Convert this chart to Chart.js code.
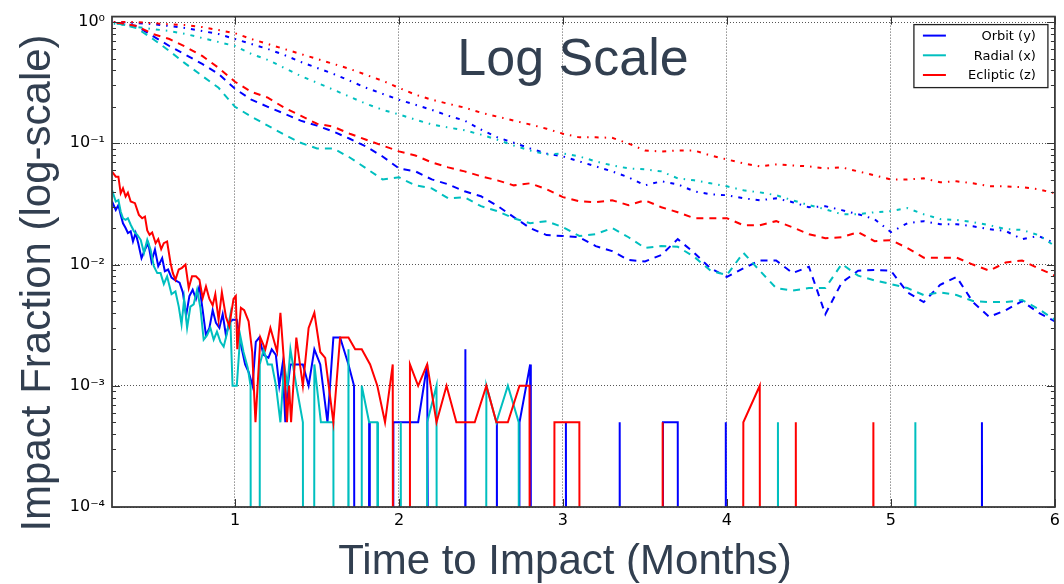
<!DOCTYPE html>
<html>
<head>
<meta charset="utf-8">
<script src="https://cdn.jsdelivr.net/npm/chart.js@4.4.0/dist/chart.umd.min.js"></script>
<style>
  html, body { margin: 0; padding: 0; background: #fff; }
  #wrap { width: 1064px; height: 584px; }
</style>
</head>
<body>
<div id="wrap"><canvas id="chart" width="1064" height="584"></canvas></div>
<script>
// series names / colours
const seriesNames = ['Orbit (y)', 'Radial (x)', 'Ecliptic (z)'];
const seriesColors = ['#0000ff', '#00bfbf', '#ff0000'];

// x ticks (months) and y decades (log scale)
const xTicks = [1, 2, 3, 4, 5, 6];
const yDecades = [1e-4, 1e-3, 1e-2, 1e-1, 1];
const yDecadeLabels = ['10⁻⁴', '10⁻³', '10⁻²', '10⁻¹', '10⁰'];
const yMinorSteps = [2, 3, 4, 5, 6, 7, 8, 9];

// months for the smoother (dashed / dash-dot) curves
const smoothMonths = [0.2, 0.3, 0.4, 0.5, 0.6, 0.7, 0.8, 0.9, 1.0, 1.1, 1.2, 1.3, 1.4, 1.5, 1.6, 1.7, 1.8, 1.9, 2.0,
  2.1, 2.2, 2.3, 2.4, 2.5, 2.6, 2.7, 2.8, 2.9, 3.0, 3.1, 3.2, 3.3, 3.4, 3.5, 3.6, 3.7, 3.8, 3.9, 4.0,
  4.1, 4.2, 4.3, 4.4, 4.5, 4.6, 4.7, 4.8, 4.9, 5.0, 5.1, 5.2, 5.3, 5.4, 5.5, 5.6, 5.7, 5.8, 5.9, 6.0];

// dashed curves
const orbitDashed = [1.0, 0.981, 0.927, 0.767, 0.635, 0.536, 0.452, 0.374, 0.282, 0.229, 0.2, 0.176, 0.154, 0.14,
  0.125, 0.109, 0.094, 0.0779, 0.0621, 0.0587, 0.0504, 0.0459, 0.0402, 0.0366, 0.0305, 0.0246, 0.02, 0.0175, 0.0172,
  0.0168, 0.0142, 0.0129, 0.0109, 0.0106, 0.012, 0.0162, 0.0125, 0.0093, 0.0079, 0.0093, 0.0108, 0.0108, 0.0085,
  0.0096, 0.0039, 0.0071, 0.0089, 0.009, 0.0089, 0.0059, 0.0049, 0.0068, 0.0079, 0.0049, 0.0037, 0.0042, 0.005,
  0.004, 0.0034];
const radialDashed = [0.981, 0.963, 0.893, 0.725, 0.578, 0.452, 0.36, 0.287, 0.2, 0.166, 0.14, 0.118, 0.101, 0.0907,
  0.0907, 0.0764, 0.0621, 0.0504, 0.0524, 0.045, 0.0425, 0.0352, 0.0359, 0.0303, 0.0276, 0.0241, 0.0219, 0.0228,
  0.0203, 0.0172, 0.0178, 0.02, 0.0168, 0.0137, 0.0142, 0.014, 0.0116, 0.0089, 0.0082, 0.0125, 0.0089, 0.0064,
  0.0061, 0.0064, 0.0064, 0.0101, 0.0081, 0.0074, 0.0069, 0.0064, 0.0056, 0.0059, 0.0056, 0.005, 0.0049, 0.0049,
  0.0051, 0.0043, 0.0035];
const eclipticDashed = [1.0, 0.981, 0.927, 0.797, 0.725, 0.624, 0.526, 0.419, 0.322, 0.266, 0.238, 0.197, 0.169,
  0.145, 0.137, 0.12, 0.107, 0.0959, 0.0858, 0.0794, 0.0696, 0.0633, 0.0587, 0.0535, 0.0495, 0.045, 0.0468, 0.0418,
  0.036, 0.0333, 0.0327, 0.0339, 0.0309, 0.0339, 0.0297, 0.027, 0.0241, 0.0241, 0.0241, 0.0211, 0.0211, 0.0228,
  0.0203, 0.0178, 0.0165, 0.0168, 0.0185, 0.0156, 0.0159, 0.0137, 0.0114, 0.0114, 0.0114, 0.01, 0.0089, 0.0104,
  0.0108, 0.0093, 0.0081];

// dash-dot curves
const orbitDashDot = [1.0, 1.0, 0.98, 0.963, 0.927, 0.893, 0.844, 0.797, 0.725, 0.66, 0.6, 0.536, 0.47, 0.419, 0.374,
  0.328, 0.287, 0.256, 0.229, 0.208, 0.189, 0.169, 0.154, 0.13, 0.112, 0.101, 0.0907, 0.0825, 0.0779, 0.0709,
  0.0645, 0.0587, 0.0524, 0.045, 0.0486, 0.0459, 0.0402, 0.038, 0.0373, 0.0352, 0.0339, 0.0352, 0.0327, 0.0297,
  0.0303, 0.0281, 0.026, 0.0237, 0.0185, 0.0219, 0.0228, 0.0215, 0.0215, 0.0207, 0.0196, 0.0189, 0.0162, 0.0172,
  0.015];
const radialDashDot = [0.981, 0.963, 0.91, 0.876, 0.844, 0.797, 0.739, 0.685, 0.635, 0.546, 0.488, 0.419, 0.36,
  0.316, 0.277, 0.242, 0.212, 0.189, 0.173, 0.157, 0.143, 0.135, 0.128, 0.118, 0.107, 0.0959, 0.0873, 0.081,
  0.0825, 0.0779, 0.0709, 0.0657, 0.0621, 0.061, 0.0587, 0.0514, 0.0495, 0.0468, 0.0442, 0.041, 0.0394, 0.0373,
  0.0339, 0.0309, 0.0286, 0.026, 0.026, 0.027, 0.0276, 0.0292, 0.026, 0.0237, 0.0233, 0.0224, 0.0211, 0.0196,
  0.0193, 0.0175, 0.0142];
const eclipticDashDot = [1.0, 1.0, 1.0, 0.98, 0.96, 0.945, 0.91, 0.86, 0.81, 0.725, 0.66, 0.6, 0.546, 0.497, 0.452,
  0.411, 0.367, 0.328, 0.287, 0.252, 0.229, 0.212, 0.197, 0.179, 0.166, 0.154, 0.143, 0.132, 0.12, 0.112, 0.112,
  0.111, 0.0996, 0.0873, 0.0856, 0.0873, 0.0873, 0.0794, 0.0736, 0.0683, 0.0645, 0.067, 0.0657, 0.0645, 0.0621,
  0.0633, 0.0587, 0.0544, 0.0504, 0.0504, 0.0514, 0.0477, 0.0486, 0.0468, 0.0442, 0.0442, 0.0434, 0.0418, 0.0387];

// solid curves: [month, fraction]; 0 = no impacts in that bin
const orbitSolid = [[0.25, 0.0331], [0.273, 0.0282], [0.289, 0.031], [0.303, 0.0257], [0.317, 0.0219], [0.333, 0.02],
  [0.347, 0.0182], [0.364, 0.0188], [0.378, 0.0155], [0.394, 0.0182], [0.41, 0.015], [0.43, 0.0113], [0.451, 0.0133],
  [0.471, 0.015], [0.491, 0.0106], [0.512, 0.0133], [0.532, 0.0097], [0.556, 0.0113], [0.572, 0.0088], [0.592, 0.0091],
  [0.613, 0.0078], [0.637, 0.0074], [0.662, 0.0071], [0.682, 0.0059], [0.702, 0.0038], [0.722, 0.0055], [0.742, 0.0062],
  [0.762, 0.0052], [0.783, 0.0066], [0.803, 0.0042], [0.823, 0.0026], [0.844, 0.003], [0.864, 0.0042], [0.884, 0.0033],
  [0.905, 0.003], [0.925, 0.0039], [0.945, 0.0026], [0.965, 0.0033], [0.985, 0.0035], [1.011, 0.0035], [1.032, 0.0023],
  [1.062, 0.0015], [1.083, 0.0013], [1.107, 0.001], [1.127, 0.0023], [1.148, 0.0025], [1.174, 0.0018], [1.204, 0.0017],
  [1.224, 0.002], [1.249, 0.0018], [1.27, 0.001], [1.29, 0.0015], [1.307, 0.0005], [1.322, 0.001], [1.338, 0.0015],
  [1.414, 0.0015], [1.449, 0.001], [1.484, 0.002], [1.52, 0.0015], [1.564, 0.0005], [1.6, 0.0025], [1.641, 0.0025],
  [1.692, 0.0015], [1.726, 0.001], [1.733, 0], [1.814, 0], [1.818, 0.0005], [1.822, 0], [1.962, 0], [1.966, 0.0005],
  [2.117, 0.0005], [2.172, 0.0015], [2.19, 0], [2.401, 0], [2.405, 0.002], [2.409, 0], [2.593, 0], [2.597, 0.0005],
  [2.601, 0], [2.731, 0], [2.735, 0.0005], [2.8, 0.0015], [2.804, 0], [3.014, 0], [3.018, 0.0005], [3.022, 0],
  [3.342, 0], [3.346, 0.0005], [3.35, 0], [3.606, 0], [3.61, 0.0005], [3.7, 0.0005], [3.704, 0], [3.989, 0],
  [3.993, 0.0005], [3.997, 0], [5.551, 0], [5.555, 0.0005], [5.559, 0]];
const radialSolid = [[0.25, 0.0412], [0.273, 0.0331], [0.289, 0.034], [0.303, 0.0274], [0.317, 0.0241], [0.333, 0.0234],
  [0.347, 0.0241], [0.364, 0.0213], [0.384, 0.0188], [0.404, 0.0176], [0.425, 0.016], [0.445, 0.0125], [0.465, 0.016],
  [0.485, 0.0133], [0.505, 0.0097], [0.526, 0.0085], [0.546, 0.0085], [0.566, 0.0069], [0.586, 0.008], [0.613, 0.0057],
  [0.637, 0.006], [0.657, 0.0045], [0.674, 0.0032], [0.69, 0.0052], [0.708, 0.003], [0.728, 0.0045], [0.748, 0.0047],
  [0.769, 0.0062], [0.789, 0.0044], [0.809, 0.0024], [0.829, 0.0026], [0.85, 0.003], [0.87, 0.0024], [0.89, 0.0028],
  [0.911, 0.0023], [0.931, 0.0021], [0.951, 0.0027], [0.971, 0.0038], [0.985, 0.001], [1.011, 0.001], [1.032, 0.0026],
  [1.052, 0.0019], [1.078, 0.0014], [1.095, 0.001], [1.099, 0], [1.147, 0], [1.151, 0.0015], [1.175, 0.002],
  [1.2, 0.0015], [1.225, 0.0015], [1.25, 0.001], [1.277, 0.0005], [1.3, 0.0015], [1.32, 0.001], [1.338, 0.002],
  [1.374, 0.001], [1.414, 0.0005], [1.418, 0], [1.48, 0], [1.484, 0.0015], [1.524, 0.0005], [1.6, 0.0005], [1.604, 0],
  [1.688, 0], [1.692, 0.002], [1.696, 0], [1.769, 0], [1.773, 0.001], [1.818, 0.0005], [1.868, 0.0005], [1.872, 0],
  [2.007, 0], [2.011, 0.0005], [2.015, 0], [2.168, 0], [2.172, 0.0005], [2.229, 0.001], [2.233, 0], [2.529, 0],
  [2.533, 0.001], [2.594, 0.0005], [2.664, 0.001], [2.73, 0.0005], [2.734, 0], [4.307, 0], [4.311, 0.0005],
  [4.315, 0], [5.145, 0], [5.149, 0.0005], [5.153, 0]];
const eclipticSolid = [[0.25, 0.0583], [0.273, 0.0531], [0.289, 0.0531], [0.303, 0.0387], [0.317, 0.0426],
  [0.333, 0.0364], [0.347, 0.0392], [0.364, 0.0331], [0.39, 0.0321], [0.414, 0.0257], [0.434, 0.0241], [0.451, 0.0249],
  [0.465, 0.0191], [0.479, 0.0176], [0.495, 0.0184], [0.516, 0.015], [0.532, 0.0162], [0.55, 0.0134], [0.566, 0.015],
  [0.586, 0.0155], [0.607, 0.0103], [0.621, 0.0085], [0.637, 0.0075], [0.657, 0.0091], [0.677, 0.0094], [0.698, 0.01],
  [0.718, 0.0064], [0.738, 0.008], [0.762, 0.008], [0.783, 0.0075], [0.803, 0.0053], [0.823, 0.0066], [0.844, 0.0052],
  [0.864, 0.0046], [0.88, 0.0057], [0.9, 0.0035], [0.92, 0.0059], [0.945, 0.0037], [0.965, 0.0031], [0.991, 0.0052],
  [1.005, 0.0055], [1.014, 0.002], [1.036, 0.0044], [1.056, 0.0042], [1.083, 0.0034], [1.105, 0.0019], [1.125, 0.0005],
  [1.155, 0.0025], [1.185, 0.002], [1.216, 0.003], [1.257, 0.0019], [1.277, 0.004], [1.3, 0.0015], [1.317, 0.0005],
  [1.33, 0.001], [1.342, 0.0005], [1.374, 0.0025], [1.414, 0.001], [1.449, 0.003], [1.484, 0.004], [1.52, 0.0019],
  [1.55, 0.0017], [1.6, 0.0005], [1.641, 0.0025], [1.692, 0.0025], [1.733, 0.002], [1.773, 0.002], [1.824, 0.0015],
  [1.868, 0.001], [1.915, 0.0005], [1.962, 0.0015], [1.966, 0], [2.063, 0], [2.067, 0.0015], [2.117, 0.001],
  [2.172, 0.0015], [2.229, 0.0005], [2.29, 0.001], [2.35, 0.0005], [2.462, 0.0005], [2.533, 0.001], [2.594, 0.0005],
  [2.664, 0.0005], [2.735, 0.001], [2.796, 0.001], [2.8, 0], [2.944, 0], [2.948, 0.0005], [3.1, 0.0005], [3.104, 0],
  [3.604, 0], [3.608, 0.0005], [3.612, 0], [4.096, 0], [4.1, 0.0005], [4.2, 0.001], [4.204, 0], [4.416, 0],
  [4.42, 0.0005], [4.424, 0], [4.889, 0], [4.893, 0.0005], [4.897, 0]];

// zero counts can't sit on a log axis: push them far below the plot, like matplotlib's clipping
const LOG_FLOOR = 1e-9;
const fromPairs = pairs => pairs.map(p => ({ x: p[0], y: p[1] > 0 ? p[1] : LOG_FLOOR }));
const fromGrid = vals => vals.map((v, i) => ({ x: smoothMonths[i], y: v }));

function line(data, color, dash, order, width) {
  return {
    data: data,
    borderColor: color,
    borderWidth: width,
    borderDash: dash,
    pointRadius: 0,
    tension: 0,
    fill: false,
    clip: 0,
    order: order
  };
}

const DASHED = [7, 6];
const DASH_DOT = [4, 6, 1.5, 6];

const datasets = [
  line(fromPairs(orbitSolid), seriesColors[0], [], 3, 2),
  line(fromPairs(radialSolid), seriesColors[1], [], 2, 2),
  line(fromPairs(eclipticSolid), seriesColors[2], [], 1, 2),
  line(fromGrid(orbitDashed), seriesColors[0], DASHED, 6, 2),
  line(fromGrid(radialDashed), seriesColors[1], DASHED, 5, 2),
  line(fromGrid(eclipticDashed), seriesColors[2], DASHED, 4, 2),
  line(fromGrid(orbitDashDot), seriesColors[0], DASH_DOT, 9, 2),
  line(fromGrid(radialDashDot), seriesColors[1], DASH_DOT, 8, 2),
  line(fromGrid(eclipticDashDot), seriesColors[2], DASH_DOT, 7, 2)
];

const isDecade = v => yDecades.some(d => Math.abs(v - d) / d < 1e-6);
const titleColor = '#323f50';

// frame, inward ticks, axis titles, "Log Scale" note and legend box
const decor = {
  id: 'decor',
  afterDatasetsDraw(chart) {
    const { ctx, chartArea: a, scales: { x, y } } = chart;
    ctx.save();

    ctx.strokeStyle = '#333';
    ctx.lineWidth = 1;
    ctx.beginPath();
    y.ticks.forEach(t => {
      const py = Math.round(y.getPixelForValue(t.value)) + 0.5;
      const len = isDecade(t.value) ? 8 : 4;
      ctx.moveTo(a.left, py); ctx.lineTo(a.left + len, py);
      ctx.moveTo(a.right, py); ctx.lineTo(a.right - len, py);
    });
    x.ticks.forEach(t => {
      const px = Math.round(x.getPixelForValue(t.value)) + 0.5;
      ctx.moveTo(px, a.bottom); ctx.lineTo(px, a.bottom - 8);
      ctx.moveTo(px, a.top); ctx.lineTo(px, a.top + 8);
    });
    ctx.stroke();

    ctx.strokeStyle = '#3a3a3a';
    ctx.lineWidth = 1.8;
    ctx.strokeRect(a.left, a.top, a.right - a.left, a.bottom - a.top);

    // legend
    const lx = a.right - 141, ly = a.top + 8, lw = 134, lh = 63;
    ctx.fillStyle = '#fff';
    ctx.fillRect(lx, ly, lw, lh);
    ctx.strokeStyle = '#222';
    ctx.lineWidth = 1.3;
    ctx.strokeRect(lx, ly, lw, lh);
    ctx.font = '13px "DejaVu Sans"';
    ctx.textAlign = 'right';
    ctx.textBaseline = 'middle';
    seriesNames.forEach((name, i) => {
      const yy = ly + 11 + i * 19.7;
      ctx.strokeStyle = seriesColors[i];
      ctx.lineWidth = 2;
      ctx.beginPath();
      ctx.moveTo(lx + 9, yy); ctx.lineTo(lx + 32, yy);
      ctx.stroke();
      ctx.fillStyle = '#000';
      ctx.fillText(name, lx + lw - 12, yy + 1);
    });

    // note inside plot
    ctx.fillStyle = titleColor;
    ctx.textAlign = 'center';
    ctx.textBaseline = 'alphabetic';
    ctx.font = '52px "Liberation Sans", Arial, sans-serif';
    ctx.fillText('Log Scale', 573, 75);
    ctx.restore();
  },
  afterDraw(chart) {
    const { ctx } = chart;
    ctx.save();
    ctx.fillStyle = titleColor;
    ctx.textAlign = 'center';
    ctx.textBaseline = 'alphabetic';
    ctx.font = '42px "Liberation Sans", Arial, sans-serif';
    ctx.fillText('Time to Impact (Months)', 565, 574);
    ctx.translate(50, 283);
    ctx.rotate(-Math.PI / 2);
    ctx.fillText('Impact Fraction (log-scale)', 0, 0);
    ctx.restore();
  }
};

new Chart(document.getElementById('chart'), {
  type: 'line',
  data: { datasets: datasets },
  options: {
    responsive: false,
    devicePixelRatio: 1,
    animation: false,
    layout: { padding: { top: 13, right: 7, left: 0, bottom: 0 } },
    plugins: { legend: { display: false }, tooltip: { enabled: false } },
    scales: {
      x: {
        type: 'linear',
        min: 0.25,
        max: 6,
        afterBuildTicks: s => { s.ticks = xTicks.map(v => ({ value: v })); },
        afterFit: s => { s.height = 77; },
        grid: { color: '#555', lineWidth: 1, drawTicks: false },
        border: { display: false, dash: [1, 2] },
        ticks: {
          color: '#000',
          font: { family: 'DejaVu Sans', size: 16 },
          padding: 4,
          maxRotation: 0,
          autoSkip: false,
          callback: v => String(v)
        }
      },
      y: {
        type: 'logarithmic',
        min: 1e-4,
        max: 1.11,
        afterBuildTicks: s => {
          const ticks = [];
          yDecades.forEach(d => {
            ticks.push({ value: d });
            if (d < 1) yMinorSteps.forEach(m => ticks.push({ value: d * m }));
          });
          s.ticks = ticks;
        },
        afterFit: s => { s.width = 112; },
        grid: {
          color: c => (c.tick && isDecade(c.tick.value)) ? '#555' : 'rgba(0,0,0,0)',
          lineWidth: 1,
          drawTicks: false
        },
        border: { display: false, dash: [1, 2] },
        ticks: {
          color: '#000',
          font: { family: 'DejaVu Sans', size: 16 },
          padding: 7,
          autoSkip: false,
          callback: v => {
            const i = yDecades.findIndex(d => Math.abs(v - d) / d < 1e-6);
            return i >= 0 ? yDecadeLabels[i] : '';
          }
        }
      }
    }
  },
  plugins: [decor]
});
</script>
</body>
</html>
